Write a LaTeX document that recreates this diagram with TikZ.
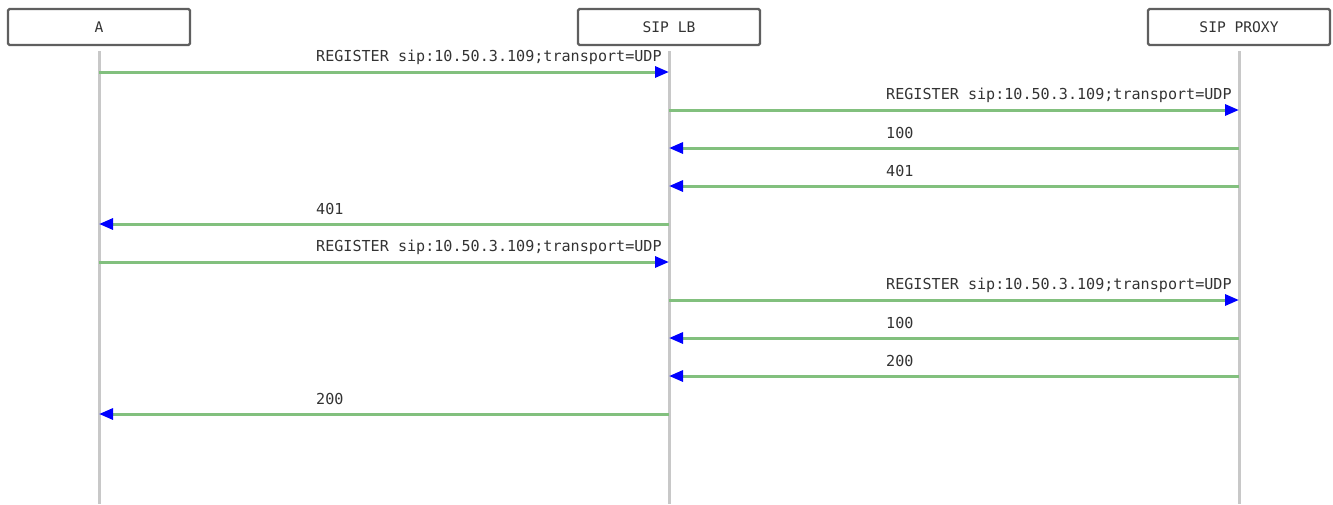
\documentclass[tikz,border=0pt]{standalone}
\usepackage{fontspec}
\setmonofont{DejaVu Sans Mono}
\usetikzlibrary{arrows.meta}
\definecolor{msggreen}{RGB}{130,192,126}
\definecolor{boxgray}{RGB}{95,95,95}
\definecolor{lifegray}{RGB}{200,200,200}
\definecolor{txtgray}{RGB}{51,51,51}
\tikzset{
  actor/.style={draw=boxgray, line width=2.3pt, rounded corners=1.5pt, fill=white,
    minimum width=182pt, minimum height=36pt, inner sep=0pt,
    font=\ttfamily\fontsize{14.6}{17}\selectfont, text=txtgray},
  life/.style={draw=lifegray, line width=3pt},
  msg/.style={draw=msggreen, line width=3pt, -{Triangle[length=14pt,width=11pt,color=blue]}},
  lbl/.style={anchor=west, inner sep=0pt, font=\ttfamily\fontsize{15.1}{17}\selectfont, text=txtgray},
}
\begin{document}
\begin{tikzpicture}[x=1pt,y=-1pt]
\useasboundingbox (0,0) rectangle (1333,504);
\node[actor] (A) at (99,27) {A};
\node[actor] (LB) at (669,27) {SIP LB};
\node[actor] (PX) at (1239,27) {SIP PROXY};
\coordinate (Aend) at (99,504);
\coordinate (LBend) at (669,504);
\coordinate (PXend) at (1239,504);
\draw[life] ([yshift=-5pt]A.south) -- (Aend);
\draw[life] ([yshift=-5pt]LB.south) -- (LBend);
\draw[life] ([yshift=-5pt]PX.south) -- (PXend);
\foreach \i/\y in {1/72,2/110,3/148,4/186,5/224,6/262,7/300,8/338,9/376,10/414}{
  \coordinate (a\i) at (99,\y);
  \coordinate (l\i) at (669,\y);
  \coordinate (p\i) at (1239,\y);
}
\draw[msg] (a1) -- (l1);
\node[lbl] (t1) at (316,57) {REGISTER sip:10.50.3.109;transport=UDP};
\draw[msg] (l2) -- (p2);
\node[lbl] (t2) at (886,95) {REGISTER sip:10.50.3.109;transport=UDP};
\draw[msg] (p3) -- (l3);
\node[lbl] (t3) at (886,133) {100};
\draw[msg] (p4) -- (l4);
\node[lbl] (t4) at (886,171) {401};
\draw[msg] (l5) -- (a5);
\node[lbl] (t5) at (316,209) {401};
\draw[msg] (a6) -- (l6);
\node[lbl] (t6) at (316,247) {REGISTER sip:10.50.3.109;transport=UDP};
\draw[msg] (l7) -- (p7);
\node[lbl] (t7) at (886,285) {REGISTER sip:10.50.3.109;transport=UDP};
\draw[msg] (p8) -- (l8);
\node[lbl] (t8) at (886,323) {100};
\draw[msg] (p9) -- (l9);
\node[lbl] (t9) at (886,361) {200};
\draw[msg] (l10) -- (a10);
\node[lbl] (t10) at (316,399) {200};
\end{tikzpicture}
\end{document}
